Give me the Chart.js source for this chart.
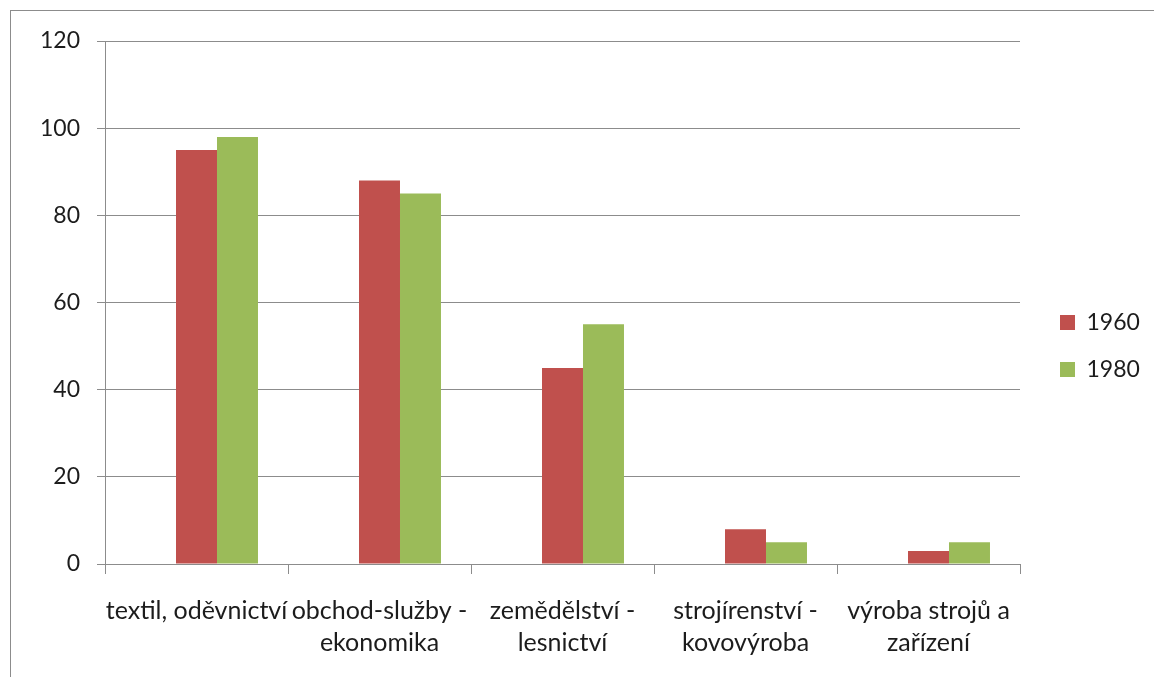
<!DOCTYPE html>
<html>
<head>
<meta charset="utf-8">
<script src="https://cdn.jsdelivr.net/npm/chart.js@4.4.1/dist/chart.umd.min.js"></script>
<style>
  html, body { margin: 0; padding: 0; background: #fff; overflow: hidden; }
  #wrap { position: absolute; left: 0; top: 0; width: 1154px; height: 677px; }
  #frame { position: absolute; left: 10px; top: 10px; width: 1160px; height: 700px; border: 1px solid #8c8c8c; box-sizing: border-box; pointer-events: none; }
</style>
</head>
<body>
<div id="wrap">
  <canvas id="chart" width="1154" height="677"></canvas>
  <div id="frame"></div>
</div>
<script>
// data
const categories = [
    'textil, oděvnictví',
    ['obchod-služby -', 'ekonomika'],
    ['zemědělství -', 'lesnictví'],
    ['strojírenství -', 'kovovýroba'],
    ['výroba strojů a', 'zařízení']
];
const emptySeries = [null, null, null, null, null];
const values1960 = [95, 88, 45, 8, 3];
const values1980 = [98, 85, 55, 5, 5];
const yTicks = [0, 20, 40, 60, 80, 100, 120];

const gridColor = '#8c8c8c';
const textColor = '#1c1c1c';
const fontFamily = 'Lato, "Open Sans", sans-serif';

// Excel-like legend placement
const legendShift = {
    id: 'legendShift',
    beforeInit(chart) {
        const legend = chart.legend;
        const origFit = legend.fit;
        legend.fit = function() {
            origFit.call(this);
            this.width = 134;
        };
    },
    afterLayout(chart) {
        const legend = chart.legend;
        legend.left += 16;
        legend.right += 16;
        legend.top -= 13;
        legend.bottom -= 13;
    }
};

document.addEventListener('DOMContentLoaded', function() {
    const ctx = document.getElementById('chart').getContext('2d');
    const chart = new Chart(ctx, {
        type: 'bar',
        data: {
            labels: categories,
            datasets: [
                {
                    label: '',
                    data: emptySeries,
                    backgroundColor: 'rgba(0,0,0,0)'
                },
                {
                    label: '1960',
                    data: values1960,
                    backgroundColor: '#C0504D'
                },
                {
                    label: '1980',
                    data: values1980,
                    backgroundColor: '#9BBB59'
                }
            ]
        },
        options: {
            responsive: false,
            animation: false,
            datasets: {
                bar: {
                    categoryPercentage: 0.672,
                    barPercentage: 1.0
                }
            },
            layout: {
                padding: { left: 0, top: 41, right: 0, bottom: 0 }
            },
            plugins: {
                tooltip: { enabled: false },
                legend: {
                    position: 'right',
                    labels: {
                        filter: item => item.datasetIndex !== 0,
                        boxWidth: 15,
                        boxHeight: 15,
                        padding: 24,
                        color: textColor,
                        font: { family: fontFamily, size: 23 }
                    }
                }
            },
            scales: {
                y: {
                    min: 0,
                    max: 120,
                    afterFit: s => { s.width = 105; },
                    afterBuildTicks: s => { s.ticks = yTicks.map(v => ({ value: v })); },
                    border: { color: gridColor, width: 1 },
                    grid: {
                        color: gridColor,
                        tickLength: 8,
                        tickColor: gridColor
                    },
                    ticks: {
                        padding: 17,
                        color: textColor,
                        font: { family: fontFamily, size: 23 }
                    }
                },
                x: {
                    afterFit: s => { s.height = 113; },
                    border: { color: gridColor, width: 1 },
                    grid: {
                        offset: true,
                        drawOnChartArea: false,
                        tickLength: 10,
                        color: gridColor
                    },
                    ticks: {
                        padding: 21,
                        maxRotation: 0,
                        autoSkip: false,
                        color: textColor,
                        font: { family: fontFamily, size: 25, lineHeight: 1.28 }
                    }
                }
            }
        },
        plugins: [legendShift]
    });
});
</script>
</body>
</html>
